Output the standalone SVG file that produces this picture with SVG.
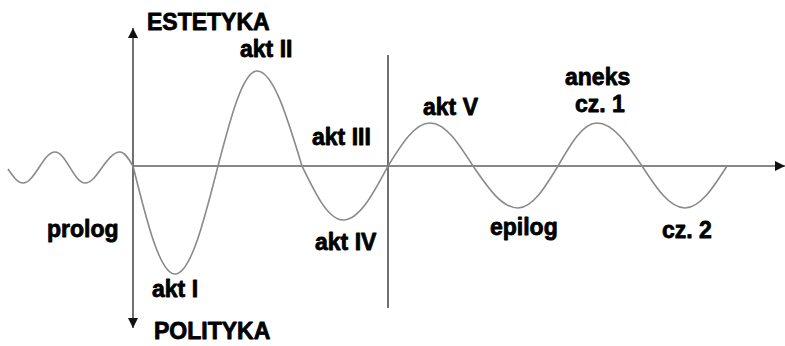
<svg xmlns="http://www.w3.org/2000/svg" width="785" height="346" viewBox="0 0 785 346">
<style>
.lbl{font-family:"Liberation Sans",Arial,sans-serif;font-weight:bold;font-size:23px;fill:#000;stroke:#000;stroke-width:0.8;stroke-linejoin:round}
.axis{stroke:#111;stroke-width:1.2;fill:none}
.wave{stroke:#8a8a8a;stroke-width:1.6;fill:none}
</style>
<defs>
<marker id="arr" viewBox="0 0 10 10" refX="10" refY="5" markerWidth="10" markerHeight="11" markerUnits="userSpaceOnUse" orient="auto">
<path d="M0,0 L10,5 L0,10 Z" fill="#111"/>
</marker>
</defs>
<rect width="785" height="346" fill="#fff"/>
<g id="connectors">
<line class="axis" x1="133" y1="166" x2="133" y2="28" marker-end="url(#arr)"/>
<line class="axis" x1="133" y1="166" x2="133" y2="328" marker-end="url(#arr)"/>
<line class="axis" x1="133" y1="166" x2="785" y2="166" marker-end="url(#arr)"/>
<line class="axis" x1="388" y1="55" x2="388" y2="308"/>
<path id="wave" class="wave" d="M8,169 C12.9,176.2 17.6,183 23,183 C28.8,183 33.8,175.4 39,167.5 C44.2,159.6 49.2,152 55,152 C60.4,152 65.1,159.6 70,167.5 C74.9,175.4 79.6,183 85,183 C91.2,183 96.5,175.4 102,167.5 C107.9,159.6 113.5,152 120,152 C124.7,152 128.8,158.8 133,166 C146.7,221.3 159.8,274 175,274 C190.6,274 204,221.3 218,166 C230.7,117.4 242.9,71 257,71 C273.3,71 287.3,117.4 302,166 C315.4,193.6 328.2,220 343,220 C359.3,220 373.3,193.6 388,166 C401.7,144 414.8,123 430,123 C445.6,123 459,144 473,166 C487.7,187.5 501.7,208 518,208 C532.5,208 545,187.5 558,166 C570.7,144 582.9,123 597,123 C613.3,123 627.3,144 642,166 C656,187.5 669.4,208 685,208 C700.2,208 713.3,187.5 727,166"/>
</g>
<g id="estetyka"><text class="lbl" x="147" y="30">ESTETYKA</text></g>
<g id="polityka"><text class="lbl" x="154" y="339">POLITYKA</text></g>
<g id="prolog"><text class="lbl" x="47" y="237">prolog</text></g>
<g id="akt1"><text class="lbl" x="152" y="297">akt I</text></g>
<g id="akt2"><text class="lbl" x="240" y="57">akt II</text></g>
<g id="akt3"><text class="lbl" x="312" y="145">akt III</text></g>
<g id="akt4"><text class="lbl" x="315" y="250">akt IV</text></g>
<g id="akt5"><text class="lbl" x="423" y="115">akt V</text></g>
<g id="epilog"><text class="lbl" x="490" y="235">epilog</text></g>
<g id="aneks"><text class="lbl" x="565" y="85">aneks</text><text class="lbl" x="575" y="112">cz. 1</text></g>
<g id="cz2"><text class="lbl" x="662" y="238">cz. 2</text></g>
</svg>
